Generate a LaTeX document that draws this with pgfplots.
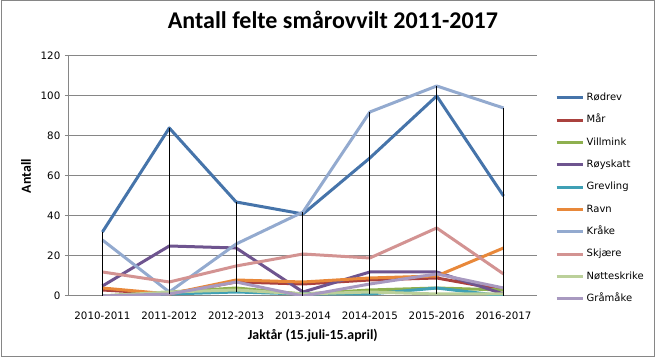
\documentclass[border=0pt]{standalone}
\usepackage{fontspec}
\setmainfont{DejaVu Sans}
\newfontfamily\titlefont{Carlito}
\usepackage{pgfplots}
\pgfplotsset{compat=1.18}
\definecolor{cRodrev}{HTML}{4674AA}
\definecolor{cMar}{HTML}{AA413E}
\definecolor{cVillmink}{HTML}{8EB04F}
\definecolor{cRoyskatt}{HTML}{6E548F}
\definecolor{cGrevling}{HTML}{3FA0B5}
\definecolor{cRavn}{HTML}{E8883A}
\definecolor{cKrake}{HTML}{93AACF}
\definecolor{cSkjare}{HTML}{D39392}
\definecolor{cNotte}{HTML}{BBD09A}
\definecolor{cGramake}{HTML}{A899C0}
\definecolor{gridgray}{HTML}{868686}
\begin{document}
\begin{tikzpicture}
\useasboundingbox (0,0) rectangle (493.5pt,269.25pt);
\draw[gridgray, line width=0.75pt] (0.75pt,1.5pt) rectangle (490.5pt,268.5pt);
\begin{axis}[
  at={(51.75pt,47.25pt)}, anchor=south west,
  scale only axis, width=351pt, height=180pt,
  xmin=-0.5, xmax=6.5, ymin=0, ymax=120,
  xtick={0,1,2,3,4,5,6},
  xticklabels={2010-2011,2011-2012,2012-2013,2013-2014,2014-2015,2015-2016,2016-2017},
  ytick={0,20,40,60,80,100,120},
  axis x line*=bottom, axis y line*=left,
  axis line style={gridgray, line width=0.75pt, -},
  ymajorgrids, grid style={gridgray, line width=0.75pt},
  tick align=outside, major tick length=3pt,
  x tick style={draw=none},
  y tick style={gridgray, line width=0.75pt},
  /pgf/number format/assume math mode=true,
  tick label style={font=\fontsize{7.7}{9}\selectfont, text=black},
  xticklabel style={yshift=-5.5pt},
  title={\titlefont\bfseries\fontsize{18}{20}\selectfont Antall felte smårovvilt 2011-2017},
  title style={at={(axis description cs:0.564,1.117)}, anchor=center, inner sep=0pt},
  xlabel={\titlefont\bfseries\fontsize{10.4}{12}\selectfont Jaktår (15.juli-15.april)},
  xlabel style={at={(axis description cs:0.521,-0.166)}, anchor=center, inner sep=0pt},
  ylabel={\titlefont\bfseries\fontsize{10.4}{12}\selectfont Antall},
  ylabel style={at={(axis description cs:-0.092,0.5)}, anchor=center, rotate=0, inner sep=0pt},
  legend style={at={(axis description cs:1.038,0.846)}, anchor=north west,
    draw=none, fill=none, inner sep=0pt,
    font=\fontsize{7.5}{9}\selectfont,
    nodes={inner ysep=0pt, inner xsep=2pt, text height=5.5pt, text depth=1.5pt, anchor=west},
    row sep=9.75pt},
  legend cell align=left,
  legend image code/.code={\draw[#1, line width=2.25pt] (0pt,0pt) -- (19.5pt,0pt);},
  every axis plot/.append style={line width=2.25pt, line join=round},
  unbounded coords=jump,
]
\addplot[cRodrev] coordinates {(0,32)(1,84)(2,47)(3,41)(4,69)(5,100)(6,50)};
\addlegendentry{Rødrev}
\addplot[cMar] coordinates {(0,3)(1,1)(2,7)(3,6)(4,8)(5,9)(6,3)};
\addlegendentry{Mår}
\addplot[cVillmink] coordinates {(0,0)(1,2)(2,4)(3,1)(4,3)(5,4)(6,3)};
\addlegendentry{Villmink}
\addplot[cRoyskatt] coordinates {(0,5)(1,25)(2,24)(3,2)(4,12)(5,12)(6,1)};
\addlegendentry{Røyskatt}
\addplot[cGrevling] coordinates {(0,0)(1,1)(2,2)(3,1)(4,1)(5,4)(6,0)};
\addlegendentry{Grevling}
\addplot[cRavn] coordinates {(0,4)(1,1)(2,8)(3,7)(4,9)(5,10)(6,24)};
\addlegendentry{Ravn}
\addplot[cKrake] coordinates {(0,28)(1,2)(2,26)(3,42)(4,92)(5,105)(6,94)};
\addlegendentry{Kråke}
\addplot[cSkjare] coordinates {(0,12)(1,7)(2,15)(3,21)(4,19)(5,34)(6,11)};
\addlegendentry{Skjære}
\addplot[cNotte] coordinates {(0,0)(1,2)(2,3)(3,1)(4,2)(5,1)(6,1)};
\addlegendentry{Nøtteskrike}
\addplot[cGramake] coordinates {(0,0)(1,1)(2,7)(3,0)(4,6)(5,11)(6,4)};
\addlegendentry{Gråmåke}
% high-low lines
\addplot[black, line width=0.75pt, forget plot] coordinates {
 (0,0)(0,32) (0,nan)
 (1,1)(1,84) (1,nan)
 (2,2)(2,47) (2,nan)
 (3,0)(3,42) (3,nan)
 (4,1)(4,92) (4,nan)
 (5,1)(5,105) (5,nan)
 (6,0)(6,94)};
\end{axis}
\end{tikzpicture}
\end{document}
